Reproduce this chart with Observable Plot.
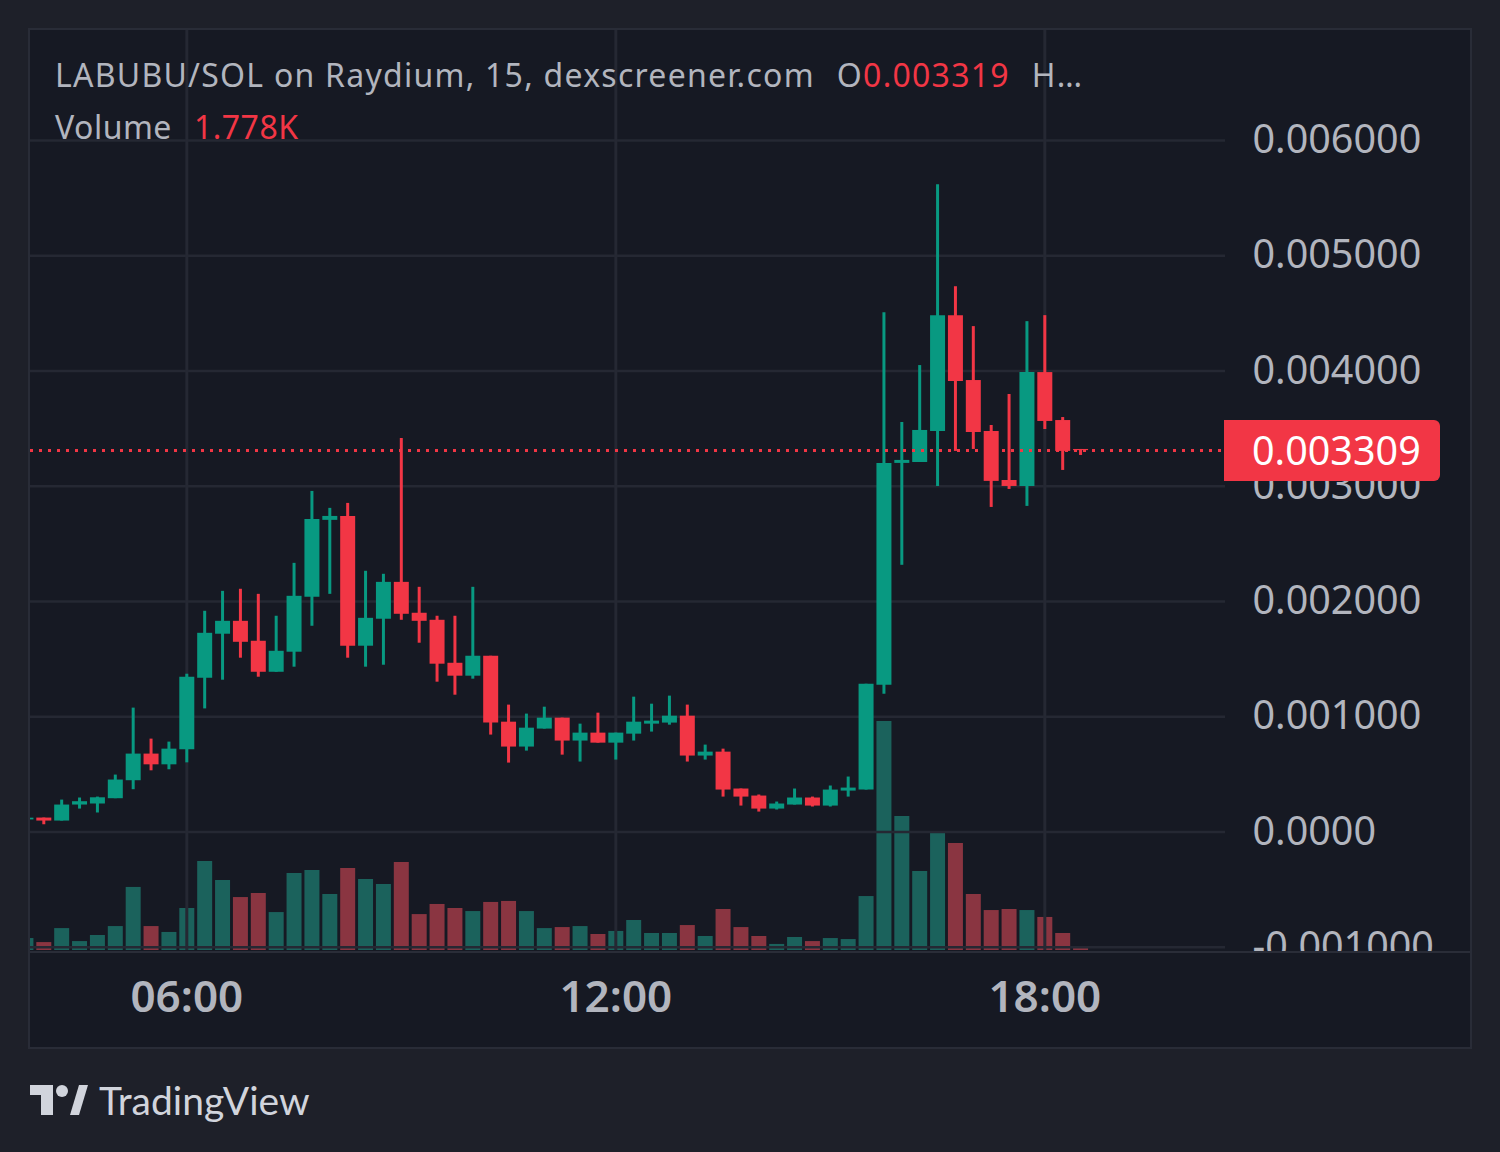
<!DOCTYPE html>
<html><head><meta charset="utf-8">
<script src="https://cdn.jsdelivr.net/npm/d3@7"></script>
<script src="https://cdn.jsdelivr.net/npm/@observablehq/plot@0.6"></script>
<style>
html,body{margin:0;padding:0}
body{width:1500px;height:1152px;background:#1e2029;position:relative;overflow:hidden;font-family:"Noto Sans",sans-serif}
#panel{position:absolute;left:30px;top:30px;width:1440px;height:1017px;background:#161923;box-shadow:0 0 0 2px #292c37}
#panel svg{position:absolute;left:0;top:0}
#timeaxis{position:absolute;left:0;top:922px;width:1440px;height:95px}
#axisline{position:absolute;left:0;top:921px;width:1440px;height:2px;background:#2a2d38}
.hdr{position:absolute;left:55px;color:#b2b5be;font-size:32px;white-space:nowrap;line-height:40px}
.red{color:#f23645}
#lastlabel{position:absolute;left:1224px;width:216px;height:61px;background:#f23645;border-radius:0 6px 6px 0;color:#fff;font-size:39.5px;line-height:61px;box-sizing:border-box;padding-left:28px}
#logo{position:absolute;left:30px;top:1080px;height:40px;display:flex;align-items:center}
#logo span{font-family:Lato,sans-serif;font-size:39px;color:#d1d4dc;margin-left:9px}
</style></head>
<body>
<div id="panel">
  <div id="vol"></div>
  <div id="main"></div>
  <div id="axisline"></div>
  <div id="timeaxis"></div>
</div>
<div class="hdr" style="top:55px;letter-spacing:1.25px">LABUBU/SOL on Raydium, 15, dexscreener.com<span style="margin-left:22px">O</span><span class="red">0.003319</span><span style="margin-left:22px">H…</span></div>
<div class="hdr" style="top:107px;letter-spacing:0.5px">Volume<span class="red" style="margin-left:22px">1.778K</span></div>
<div id="lastlabel">0.003309</div>
<div id="logo"><svg width="60" height="32" viewBox="0 0 60 32"><path d="M0 1h23v30h-12v-20h-11z" fill="#d1d4dc"/><circle cx="32" cy="7" r="6" fill="#d1d4dc"/><path d="M49 1h9l-9 30h-9z" fill="#d1d4dc"/></svg><span>TradingView</span></div>
<script>
const times = ["03:45","04:00","04:15","04:30","04:45","05:00","05:15","05:30","05:45","06:00","06:15","06:30","06:45","07:00","07:15","07:30","07:45","08:00","08:15","08:30","08:45","09:00","09:15","09:30","09:45","10:00","10:15","10:30","10:45","11:00","11:15","11:30","11:45","12:00","12:15","12:30","12:45","13:00","13:15","13:30","13:45","14:00","14:15","14:30","14:45","15:00","15:15","15:30","15:45","16:00","16:15","16:30","16:45","17:00","17:15","17:30","17:45","18:00","18:15","18:30"];
const open = [0.000105,0.000121,0.000095,0.000234,0.000243,0.000289,0.000445,0.000676,0.000583,0.000713,0.001334,0.001716,0.001828,0.001655,0.001386,0.001560,0.002036,0.002704,0.002738,0.001612,0.001846,0.002166,0.001898,0.001837,0.001464,0.001352,0.001525,0.000953,0.000737,0.000893,0.000988,0.000789,0.000858,0.000771,0.000849,0.000936,0.000945,0.001005,0.000659,0.000693,0.000373,0.000312,0.000199,0.000234,0.000295,0.000225,0.000355,0.000364,0.001274,0.003198,0.003206,0.003475,0.004480,0.003917,0.003475,0.003050,0.002998,0.003986,0.003570,0.003319];
const high = [0.000125,0.000121,0.000277,0.000295,0.000303,0.000494,0.001075,0.000806,0.000780,0.001369,0.001915,0.002088,0.002106,0.002062,0.001872,0.002331,0.002955,0.002808,0.002851,0.002262,0.002236,0.003414,0.002123,0.001872,0.001872,0.002123,0.001525,0.001101,0.001023,0.001083,0.000988,0.000936,0.001031,0.000858,0.001170,0.001109,0.001179,0.001101,0.000754,0.000719,0.000373,0.000321,0.000260,0.000373,0.000303,0.000399,0.000477,0.001282,0.004506,0.003553,0.004047,0.005615,0.004731,0.004385,0.003527,0.003796,0.004428,0.004480,0.003596,0.003319];
const low = [0.000100,0.000063,0.000095,0.000199,0.000165,0.000289,0.000367,0.000531,0.000540,0.000600,0.001068,0.001317,0.001508,0.001343,0.001386,0.001430,0.001785,0.002062,0.001508,0.001430,0.001447,0.001837,0.001638,0.001300,0.001187,0.001326,0.000841,0.000598,0.000702,0.000893,0.000667,0.000607,0.000771,0.000624,0.000789,0.000867,0.000927,0.000607,0.000624,0.000303,0.000225,0.000173,0.000191,0.000234,0.000217,0.000217,0.000303,0.000364,0.001196,0.002314,0.003206,0.002998,0.003302,0.003319,0.002816,0.002972,0.002825,0.003492,0.003137,0.003267];
const close = [0.000120,0.000095,0.000234,0.000263,0.000297,0.000451,0.000676,0.000583,0.000719,0.001343,0.001724,0.001828,0.001646,0.001386,0.001568,0.002045,0.002712,0.002738,0.001612,0.001854,0.002166,0.001889,0.001828,0.001456,0.001352,0.001525,0.000945,0.000737,0.000901,0.000988,0.000789,0.000858,0.000771,0.000858,0.000953,0.000962,0.001005,0.000659,0.000693,0.000364,0.000303,0.000199,0.000243,0.000295,0.000225,0.000364,0.000381,0.001282,0.003198,0.003224,0.003484,0.004480,0.003908,0.003466,0.003042,0.002998,0.003986,0.003562,0.003302,0.003309];
const volumeK = [7.1,4.7,13.0,5.3,8.9,14.2,37.4,14.2,10.7,24.9,52.8,41.5,31.4,33.8,22.5,45.7,47.4,33.2,48.6,42.1,39.1,52.2,21.3,27.3,24.9,23.1,28.5,29.1,23.1,13.0,13.6,14.2,9.5,11.3,17.8,10.1,10.1,14.8,8.3,24.3,13.6,8.3,3.6,7.7,5.3,7.1,6.5,32.0,135.8,79.5,46.8,69.4,63.5,33.2,23.7,24.3,23.7,19.6,10.1,1.778];
const priceTicks = [-0.001,0,0.001,0.002,0.003,0.004,0.005,0.006];
const priceTickLabels = ["-0.001000","0.0000","0.001000","0.002000","0.003000","0.004000","0.005000","0.006000"];
const timeTicks = [6,12,18];
const timeTickLabels = ["06:00","12:00","18:00"];
const lastPrice = 0.003309;

const UP = "#089981", DOWN = "#f23645", UPV = "#1b625c", DOWNV = "#8a3541";
const GRID = "#252833", TXT = "#b2b5be";
const FONT = '"Noto Sans", sans-serif';
const hours = s => { const [h, m] = s.split(":").map(Number); return h + m / 60; };
const candles = times.map((t, i) => ({t: hours(t), open: open[i], high: high[i], low: low[i], close: close[i], vol: volumeK[i]}));
const isUp = d => d.close >= d.open;
const xDomain = [3.814, 20.527];
const yDomain = [-0.001028, 0.006954];
const frame = {width: 1440, height: 922, marginLeft: 0, marginRight: 245, marginTop: 0, marginBottom: 2};

const vol = Plot.plot({
  ...frame,
  x: {domain: xDomain, axis: null},
  y: {domain: [0, 545.6], axis: null},
  color: {type: "identity"},
  style: {background: "transparent", overflow: "hidden"},
  marks: [
    Plot.ruleX(candles, {x: "t", y1: d => 0, y2: "vol", stroke: d => isUp(d) ? UPV : DOWNV, strokeWidth: 15})
  ]
});
document.getElementById("vol").append(vol);

const main = Plot.plot({
  ...frame,
  x: {domain: xDomain, axis: null},
  y: {domain: yDomain, axis: null},
  color: {type: "identity"},
  style: {background: "transparent", overflow: "hidden", fontFamily: FONT},
  marks: [
    Plot.gridY(priceTicks, {stroke: GRID, strokeOpacity: 1, strokeWidth: 2.5}),
    Plot.gridX(timeTicks, {stroke: GRID, strokeOpacity: 1, strokeWidth: 3}),
    Plot.ruleX(candles, {x: "t", y1: "low", y2: "high", stroke: d => isUp(d) ? UP : DOWN, strokeWidth: 3}),
    Plot.ruleX(candles, {x: "t", y1: "open", y2: "close", stroke: d => isUp(d) ? UP : DOWN, strokeWidth: 15}),
    Plot.ruleY([lastPrice], {stroke: DOWN, strokeWidth: 3, strokeDasharray: "3,6"}),
    Plot.axisY(priceTicks, {anchor: "right", tickSize: 0, tickPadding: 27, fill: TXT, fontSize: 39.5,
      tickFormat: d => priceTickLabels[priceTicks.indexOf(d)]})
  ]
});
document.getElementById("main").append(main);

const taxis = Plot.plot({
  width: 1440, height: 95, marginLeft: 0, marginRight: 245, marginTop: 0, marginBottom: 0,
  x: {domain: xDomain, axis: null},
  style: {background: "transparent", fontFamily: FONT},
  marks: [
    Plot.text(timeTicks, {x: d => d, text: (d, i) => timeTickLabels[i], frameAnchor: "middle", dy: -2,
      fill: TXT, fontSize: 44, fontWeight: 600})
  ]
});
document.getElementById("timeaxis").append(taxis);

const yPx = main.scale("y").apply(lastPrice);
document.getElementById("lastlabel").style.top = (30 + yPx - 30.5) + "px";
</script>
</body></html>
